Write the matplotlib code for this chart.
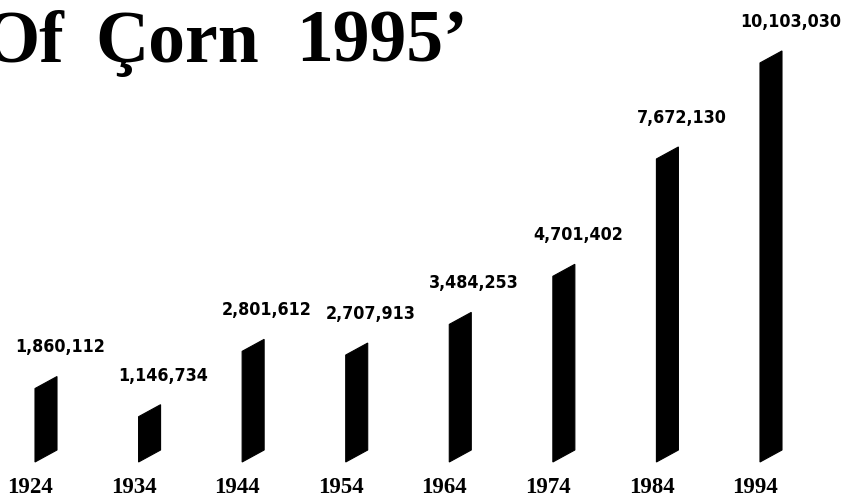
import matplotlib
matplotlib.use("Agg")
import matplotlib.pyplot as plt
from matplotlib.patches import Polygon

# data
years = ["1924", "1934", "1944", "1954", "1964", "1974", "1984", "1994"]
bushels = [1860112, 1146734, 2801612, 2707913, 3484253, 4701402, 7672130, 10103030]
value_labels = ["1,860,112", "1,146,734", "2,801,612", "2,707,913",
                "3,484,253", "4,701,402", "7,672,130", "10,103,030"]

W, H = 842, 499
fig = plt.figure(figsize=(W / 100, H / 100), dpi=100)
ax = fig.add_axes([0, 0, 1, 1])
ax.set_axis_off()

px_x = 103.57          # pixels per category step
px_y = 39.5 / 1e6      # pixels per bushel
ax.set_xlim(-46 / px_x, (W - 46) / px_x)
ax.set_ylim(-37 / px_y, (H - 37) / px_y)

bar_w = 22 / px_x
shear = 12 / px_y

serif = ["Liberation Serif", "DejaVu Serif"]

for i, (v, lab, yr) in enumerate(zip(bushels, value_labels, years)):
    L, R = i - bar_w / 2, i + bar_w / 2
    poly = Polygon([(L, 0), (R, shear), (R, v + shear), (L, v)],
                   closed=True, facecolor="black", edgecolor="black", lw=0.8)
    ax.add_patch(poly)
    # value above bar
    ax.annotate(lab, (L, v + shear), xytext=(-14.4, 20.9), textcoords="offset points",
                ha="left", va="center", fontsize=12.8, fontweight="heavy",
                fontstretch="condensed", family="DejaVu Sans", color="black")
    # year below bar
    ax.annotate(yr, (i, 0), xytext=(-11.5, -18.7), textcoords="offset points",
                ha="center", va="center", fontsize=16.5, fontweight="bold",
                family=serif, color="black")

# title, partly cut off at the left edge like the scan
base = (H - 62) / H
fig.text(-18 / W, base, "Of", fontsize=53, fontweight="bold", family=serif,
         va="baseline", ha="left")
fig.text(95 / W, base, "Çorn", fontsize=53, fontweight="bold", family=serif,
         va="baseline", ha="left")
fig.text(296 / W, base, "1995’", fontsize=53, fontweight="bold", family=serif,
         va="baseline", ha="left")

fig.savefig("out.png", dpi=100, facecolor="white")
